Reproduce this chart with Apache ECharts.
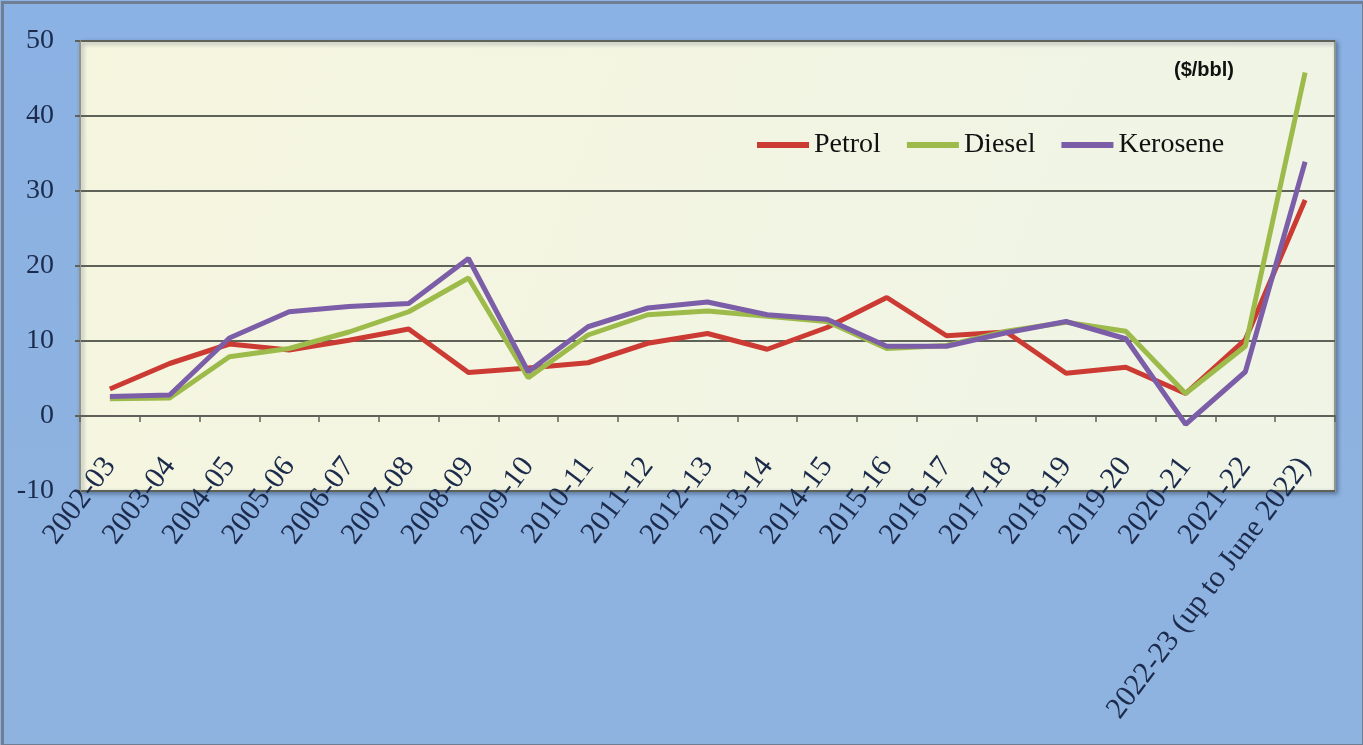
<!DOCTYPE html>
<html>
<head>
<meta charset="utf-8">
<script src="https://cdn.jsdelivr.net/npm/echarts@6/dist/echarts.min.js"></script>
<style>
html,body{margin:0;padding:0;background:#8db3e2;}
#chart{width:1363px;height:745px;}
</style>
</head>
<body>
<div id="chart"></div>
<script>
const categories = ['2002-03','2003-04','2004-05','2005-06','2006-07','2007-08','2008-09','2009-10','2010-11','2011-12','2012-13','2013-14','2014-15','2015-16','2016-17','2017-18','2018-19','2019-20','2020-21','2021-22','2022-23 (up to June 2022)'];
const petrol   = [3.6, 7.0, 9.6, 8.8, 10.1, 11.6, 5.8, 6.4, 7.1, 9.7, 11.0, 8.9, 11.8, 15.8, 10.7, 11.2, 5.7, 6.5, 3.0, 10.2, 28.8];
const diesel   = [2.3, 2.4, 7.9, 9.0, 11.2, 13.9, 18.4, 5.1, 10.8, 13.5, 14.0, 13.3, 12.6, 9.0, 9.4, 11.3, 12.5, 11.3, 3.0, 9.3, 45.8];
const kerosene = [2.6, 2.8, 10.4, 13.9, 14.6, 15.0, 21.0, 5.9, 11.9, 14.4, 15.2, 13.5, 12.9, 9.3, 9.3, 11.1, 12.6, 10.3, -1.1, 5.9, 33.9];
const seriesNames = ['Petrol','Diesel','Kerosene'];
const unitLabel = '($/bbl)';

const chart = echarts.init(document.getElementById('chart'), null, {renderer:'canvas'});
const serif = '"Liberation Serif", "DejaVu Serif", serif';
const lineColors = ['#cc3b33', '#9dbb4a', '#7b5ea7'];
const dataSets = [petrol, diesel, kerosene];

chart.setOption({
  animation: false,
  backgroundColor: {
    type: 'linear', x: 0, y: 0, x2: 0, y2: 1,
    colorStops: [{offset: 0, color: '#8bb2e4'}, {offset: 1, color: '#8fb3df'}]
  },
  grid: {
    left: 80, right: 28, top: 41, bottom: 254,
    show: true,
    backgroundColor: {
      type: 'linear', x: 0, y: 0, x2: 1, y2: 1,
      colorStops: [{offset: 0, color: '#f6f6df'}, {offset: 1, color: '#eff4e6'}]
    },
    borderColor: '#8f958c',
    borderWidth: 2,
    shadowColor: 'rgba(40,60,90,0.45)',
    shadowBlur: 4,
    shadowOffsetX: 2,
    shadowOffsetY: 2
  },
  legend: {
    data: seriesNames,
    left: 752, top: 126,
    itemWidth: 52, itemHeight: 6,
    itemGap: 26,
    icon: 'rect',
    textStyle: {fontFamily: serif, fontSize: 28, color: '#111'}
  },
  graphic: [
    {type: 'text', left: 1174, top: 60, z: 100,
     style: {text: unitLabel, font: 'bold 20px "Liberation Sans", Arial, sans-serif', fill: '#111'}},
    {type: 'rect', left: 0, top: 0, z: -1, silent: true,
     shape: {x: 0, y: 0, width: 1361, height: 743},
     style: {fill: 'none', stroke: '#6f7e93', lineWidth: 3}}
  ],
  xAxis: {
    type: 'category',
    data: categories,
    boundaryGap: true,
    axisLine: {onZero: true, lineStyle: {color: '#5d6159', width: 2}},
    axisTick: {show: true, length: 6, lineStyle: {color: '#5d6159', width: 1.5}},
    axisLabel: {
      rotate: 53, interval: 0, margin: -30,
      fontFamily: serif, fontSize: 30, color: '#1c2b4c'
    },
    splitLine: {show: false}
  },
  yAxis: {
    type: 'value',
    min: -10, max: 50, interval: 10,
    axisLine: {show: true, lineStyle: {color: '#8f958c', width: 2}},
    axisTick: {show: true, length: 5, lineStyle: {color: '#5d6159', width: 2}},
    axisLabel: {margin: 26, fontFamily: serif, fontSize: 28, color: '#1c2b4c'},
    splitLine: {show: true, lineStyle: {color: '#5e6259', width: 2}}
  },
  series: dataSets.map((d, i) => ({
    name: seriesNames[i],
    type: 'line',
    data: d,
    showSymbol: false,
    symbol: 'none',
    lineStyle: {width: 5, color: lineColors[i]},
    itemStyle: {color: lineColors[i]}
  }))
});
</script>
</body>
</html>
